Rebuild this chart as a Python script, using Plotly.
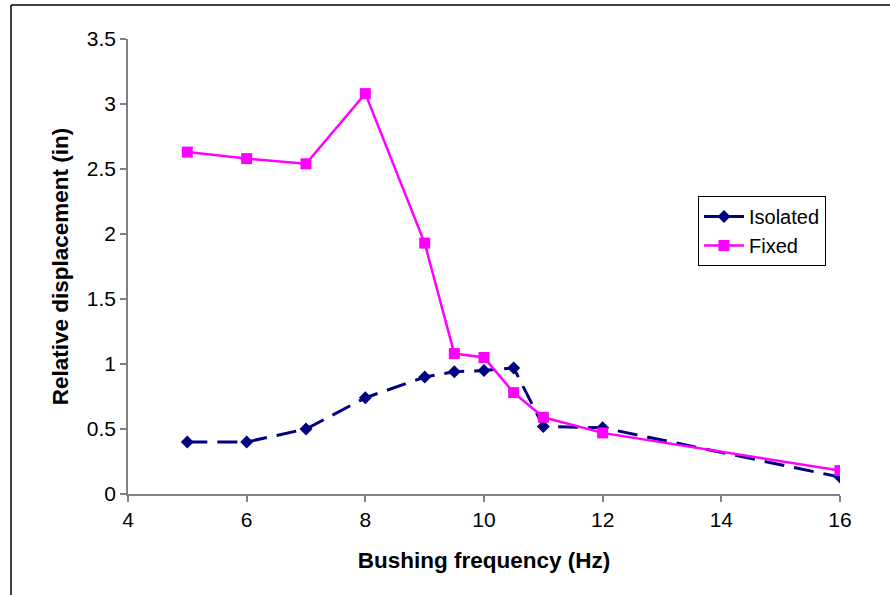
import plotly.graph_objects as go

freq = [5, 6, 7, 8, 9, 9.5, 10, 10.5, 11, 12, 16]
isolated = [0.40, 0.40, 0.50, 0.74, 0.90, 0.94, 0.95, 0.97, 0.52, 0.51, 0.13]
fixed = [2.63, 2.58, 2.54, 3.08, 1.93, 1.08, 1.05, 0.78, 0.59, 0.47, 0.18]

W, H = 890, 595
# plot area in page pixels
PX0, PX1, PY0, PY1 = 128, 840, 39, 494
L, T, R, B = PX0, PY0, W - PX1, H - PY1
pw, ph = PX1 - PX0, PY1 - PY0

def px(x):
    return (x - PX0) / pw

def py(y):
    return (PY1 - y) / ph

FONT = "Liberation Sans, Arial, sans-serif"
NAVY, MAGENTA = "#000080", "#FF00FF"

fig = go.Figure()
fig.add_trace(go.Scatter(
    x=freq, y=isolated, name="Isolated", mode="lines+markers", showlegend=False,
    legendgroup="iso",
    line=dict(color=NAVY, width=3, dash="20px,10px"),
    marker=dict(symbol="diamond", size=10, color=NAVY),
))
# legend entry for Isolated drawn with a solid line, as in the reference
fig.add_trace(go.Scatter(
    x=[None], y=[None], name="Isolated", mode="lines+markers", legendgroup="iso",
    line=dict(color=NAVY, width=3),
    marker=dict(symbol="diamond", size=10, color=NAVY),
))
fig.add_trace(go.Scatter(
    x=freq, y=fixed, name="Fixed", mode="lines+markers",
    line=dict(color=MAGENTA, width=2.5),
    marker=dict(symbol="square", size=11, color=MAGENTA),
))

axis_common = dict(
    showgrid=False, zeroline=False, showline=True, linecolor="#808080", linewidth=1.5,
    ticks="outside", ticklen=6, tickcolor="#808080", tickwidth=1.5,
    tickfont=dict(family=FONT, size=21, color="black"),
)
fig.update_xaxes(range=[4, 16], dtick=2, tick0=4,
                 title=dict(text="<b>Bushing frequency (Hz)</b>",
                            font=dict(family=FONT, size=22.5, color="black"),
                            standoff=22),
                 **axis_common)
fig.update_yaxes(range=[0, 3.5], dtick=0.5, tick0=0,
                 title=dict(text="<b>Relative displacement (in)</b>",
                            font=dict(family=FONT, size=22.5, color="black"),
                            standoff=12),
                 **axis_common)

# outer frame lines (top and left) as in the reference
fig.add_shape(type="line", xref="paper", yref="paper",
              x0=px(11), x1=px(W + 20), y0=py(5), y1=py(5),
              line=dict(color="black", width=1.5))
fig.add_shape(type="line", xref="paper", yref="paper",
              x0=px(11), x1=px(11), y0=py(5), y1=py(H + 20),
              line=dict(color="black", width=1.5))

fig.update_layout(
    width=W, height=H,
    margin=dict(l=L, r=R, t=T, b=B),
    paper_bgcolor="white", plot_bgcolor="white",
    showlegend=True,
    legend=dict(x=px(698), y=py(196), xanchor="left", yanchor="top",
                bordercolor="black", borderwidth=1, bgcolor="white",
                font=dict(family=FONT, size=20, color="black"),
                tracegroupgap=0, itemwidth=40),
)

fig.write_html("out.html", config={"displayModeBar": False},
               post_script="document.body.style.margin='0';")
